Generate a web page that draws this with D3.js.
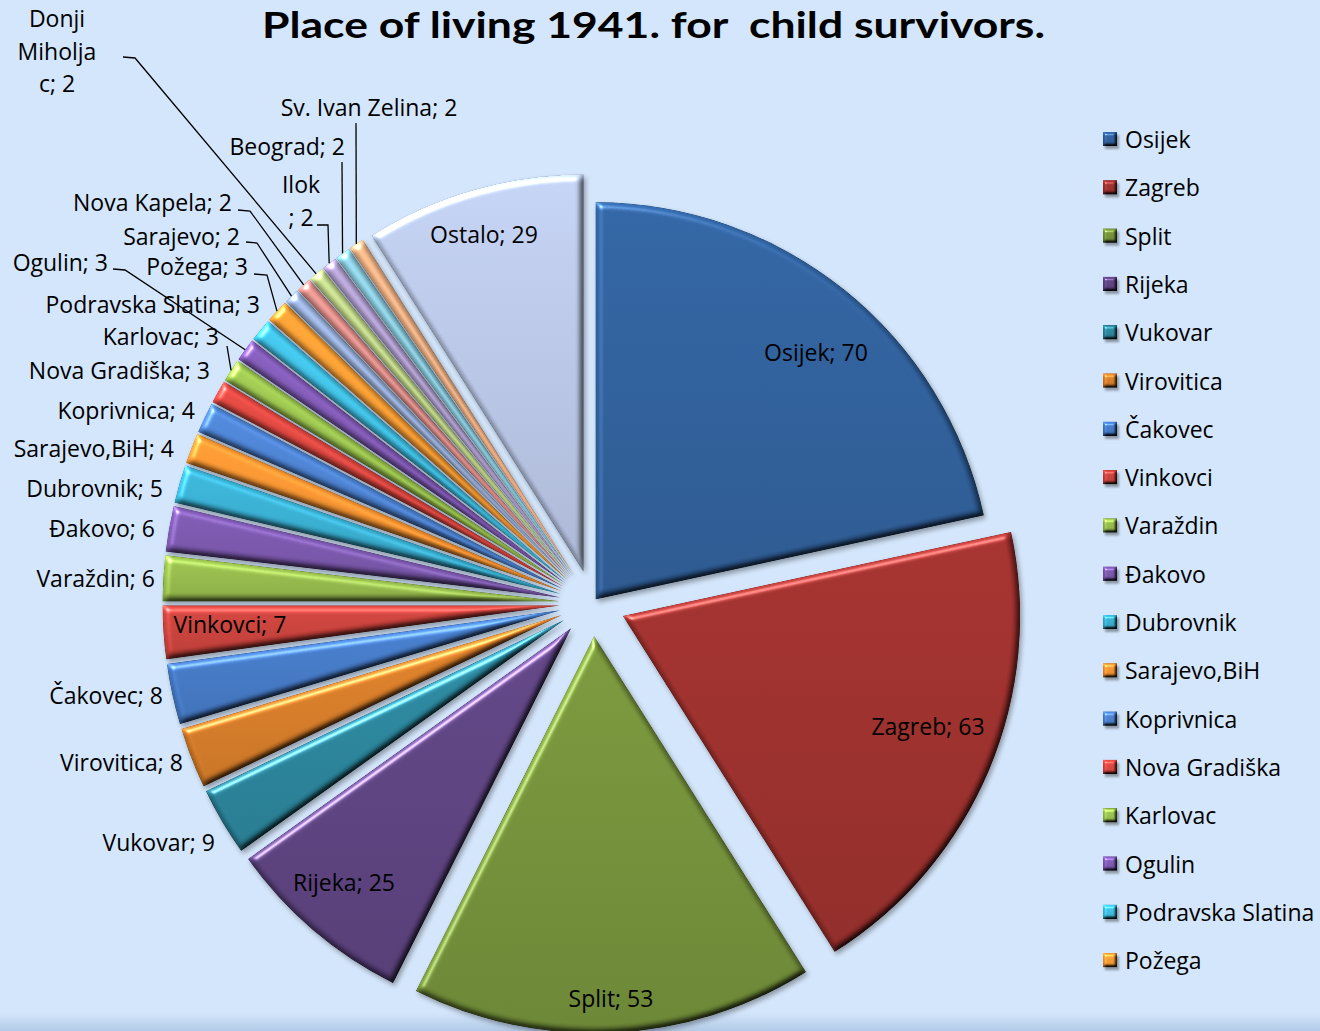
<!DOCTYPE html>
<html>
<head>
<meta charset="utf-8">
<script src="https://cdn.jsdelivr.net/npm/d3@7"></script>
<style>
  html, body { margin: 0; padding: 0; background: #d4e6fb; }
  svg { display: block; font-family: 'Open Sans', 'Noto Sans', sans-serif; }
</style>
</head>
<body>
<div class="viz"></div>
<script>
// places of living in 1941, in the order the slices are drawn (clockwise from 12 o'clock)
const categories = ['Osijek', 'Zagreb', 'Split', 'Rijeka', 'Vukovar', 'Virovitica', 'Čakovec', 'Vinkovci',
  'Varaždin', 'Đakovo', 'Dubrovnik', 'Sarajevo,BiH', 'Koprivnica', 'Nova Gradiška', 'Karlovac', 'Ogulin',
  'Podravska Slatina', 'Požega', 'Sarajevo', 'Nova Kapela', 'Donji Miholjac', 'Ilok', 'Beograd',
  'Sv. Ivan Zelina', 'Ostalo'];
const values = [70, 63, 53, 25, 9, 8, 8, 7, 6, 6, 5, 4, 4, 3, 3, 3, 3, 3, 2, 2, 2, 2, 2, 2, 29];
const colors = ['#2e5e99', '#9a2e2b', '#728f38', '#5b417e', '#29839a', '#d57b27',
  '#4378c4', '#c6403a', '#93b84a', '#7754a8', '#36abcc', '#f39130',
  '#4a7fcc', '#d8443e', '#97bf4c', '#7d57b0', '#3ebcdf', '#f79a32',
  '#9cb3de', '#e3928e', '#c2d88b', '#b3a1d2', '#8ecfe2', '#f8b487', '#b7c4e3'];
// the legend of the original is cut off after this many entries
const legendCount = 18;
const title = 'Place of living 1941. for  child survivors.';

// label placement, following the layout of the original chart
const labelLayout = {
  'Osijek': { x: 816, y: 352, anchor: 'middle' },
  'Zagreb': { x: 928, y: 726, anchor: 'middle' },
  'Split': { x: 611, y: 998, anchor: 'middle' },
  'Rijeka': { x: 344, y: 882, anchor: 'middle' },
  'Vukovar': { x: 215, y: 842, anchor: 'end' },
  'Virovitica': { x: 183, y: 762, anchor: 'end' },
  'Čakovec': { x: 163, y: 695, anchor: 'end' },
  'Vinkovci': { x: 230, y: 624, anchor: 'middle' },
  'Varaždin': { x: 155, y: 578, anchor: 'end' },
  'Đakovo': { x: 155, y: 528, anchor: 'end' },
  'Dubrovnik': { x: 163, y: 488, anchor: 'end' },
  'Sarajevo,BiH': { x: 174, y: 448, anchor: 'end' },
  'Koprivnica': { x: 195, y: 410, anchor: 'end' },
  'Nova Gradiška': { x: 210, y: 370, anchor: 'end' },
  'Karlovac': { x: 219, y: 336, anchor: 'end', leader: [[227, 346]] },
  'Ogulin': { x: 108, y: 262, anchor: 'end', leader: [[113, 269], [125, 270]] },
  'Podravska Slatina': { x: 260, y: 304, anchor: 'end' },
  'Požega': { x: 248, y: 266, anchor: 'end', leader: [[254, 274], [267, 275]] },
  'Sarajevo': { x: 240, y: 236, anchor: 'end', leader: [[246, 242], [257, 243]] },
  'Nova Kapela': { x: 232, y: 202, anchor: 'end', leader: [[238, 210], [250, 211]] },
  'Donji Miholjac': { x: 57, y: 18, anchor: 'middle', lines: ['Donji', 'Miholja', 'c; 2'], leader: [[123, 57], [135, 58]] },
  'Ilok': { x: 301, y: 184, anchor: 'middle', lines: ['Ilok', '; 2'], leader: [[317, 225], [328, 225]] },
  'Beograd': { x: 345, y: 146, anchor: 'end', leader: [[342, 162]] },
  'Sv. Ivan Zelina': { x: 369, y: 107, anchor: 'middle', leader: [[356, 123]] },
  'Ostalo': { x: 484, y: 234, anchor: 'middle' },
};

const width = 1320;
const height = 1031;
const center = { x: 592.6, y: 603.2 };
const radius = 397;
const lineHeight = 32.5;

const svg = d3.select('.viz')
  .append('svg')
  .attr('width', width)
  .attr('height', height);

const defs = svg.append('defs');

// bevel + soft shadow, roughly like the office "bevel" shape effect
function bevelFilter(id, blur, scale, region) {
  const f = defs.append('filter')
    .attr('id', id)
    .attr('filterUnits', 'userSpaceOnUse')
    .attr('x', region[0]).attr('y', region[1])
    .attr('width', region[2]).attr('height', region[3])
    .attr('color-interpolation-filters', 'sRGB');
  f.append('feGaussianBlur').attr('in', 'SourceAlpha').attr('stdDeviation', blur * 0.8).attr('result', 'sb');
  f.append('feOffset').attr('in', 'sb').attr('dx', 1.5).attr('dy', 2.5).attr('result', 'so');
  f.append('feComponentTransfer').attr('in', 'so').attr('result', 'shadow')
    .append('feFuncA').attr('type', 'linear').attr('slope', 0.35);
  f.append('feGaussianBlur').attr('in', 'SourceAlpha').attr('stdDeviation', blur).attr('result', 'hb');
  f.append('feDiffuseLighting').attr('in', 'hb').attr('surfaceScale', scale)
    .attr('diffuseConstant', 1).attr('lighting-color', '#ffffff').attr('result', 'diff')
    .append('feDistantLight').attr('azimuth', 235).attr('elevation', 55);
  f.append('feComposite').attr('in', 'SourceGraphic').attr('in2', 'diff')
    .attr('operator', 'arithmetic').attr('k1', 1.22).attr('k2', 0).attr('k3', 0).attr('k4', 0)
    .attr('result', 'lit');
  f.append('feSpecularLighting').attr('in', 'hb').attr('surfaceScale', scale)
    .attr('specularConstant', 0.55).attr('specularExponent', 35).attr('lighting-color', '#ffffff')
    .attr('result', 'spec')
    .append('feDistantLight').attr('azimuth', 235).attr('elevation', 40);
  f.append('feComposite').attr('in', 'spec').attr('in2', 'SourceAlpha').attr('operator', 'in').attr('result', 'specIn');
  f.append('feComposite').attr('in', 'lit').attr('in2', 'specIn')
    .attr('operator', 'arithmetic').attr('k1', 0).attr('k2', 1).attr('k3', 1).attr('k4', 0)
    .attr('result', 'shaded');
  const merge = f.append('feMerge');
  merge.append('feMergeNode').attr('in', 'shadow');
  merge.append('feMergeNode').attr('in', 'shaded');
}
bevelFilter('bevel', 3, 4, [-650, -650, 1300, 1300]);
bevelFilter('bevel-small', 1.6, 3, [-10, -10, 40, 40]);

// vertical gradient for every colour, lighter at the top
colors.forEach((c, i) => {
  const g = defs.append('linearGradient')
    .attr('id', `grad-${i}`)
    .attr('x1', 0).attr('y1', 0).attr('x2', 0).attr('y2', 1);
  g.append('stop').attr('offset', 0).attr('stop-color', d3.rgb(c).brighter(0.18));
  g.append('stop').attr('offset', 1).attr('stop-color', d3.rgb(c).darker(0.22));
});

const bottomGrad = defs.append('linearGradient')
  .attr('id', 'bottom-band')
  .attr('x1', 0).attr('y1', 0).attr('x2', 0).attr('y2', 1);
bottomGrad.append('stop').attr('offset', 0).attr('stop-color', '#d4e6fb');
bottomGrad.append('stop').attr('offset', 1).attr('stop-color', '#b3cbe8');

// background
svg.append('rect')
  .attr('width', width)
  .attr('height', height)
  .attr('fill', '#d4e6fb');
svg.append('rect')
  .attr('y', 1012)
  .attr('width', width)
  .attr('height', height - 1012)
  .attr('fill', 'url(#bottom-band)');

// title
svg.append('text')
  .attr('x', 653.5)
  .attr('y', 37.5)
  .attr('text-anchor', 'middle')
  .attr('font-family', 'Lato, sans-serif')
  .attr('font-size', 37)
  .attr('font-weight', 'bold')
  .attr('fill', '#000')
  .attr('textLength', 783)
  .attr('lengthAdjust', 'spacingAndGlyphs')
  .style('white-space', 'pre')
  .text(title);

// PIE
const data = categories.map((name, i) => ({ name, value: values[i], index: i }));
const pie = d3.pie().sort(null).value(d => d.value);
const arcs = pie(data);

const arc = d3.arc().innerRadius(0).outerRadius(radius);
const rimArc = d3.arc().innerRadius(radius).outerRadius(radius);

// every slice is pulled out from the centre; the first one only slightly
const explodeOffset = (d) => {
  const a = (d.startAngle + d.endAngle) / 2;
  const e = d.index === 0 ? 5 : 33;
  return [Math.sin(a) * e, -Math.cos(a) * e];
};

const groupPie = svg.append('g')
  .attr('transform', `translate(${center.x} ${center.y})`);

groupPie.selectAll('path.slice')
  .data(arcs)
  .join('path')
  .attr('class', 'slice')
  .attr('transform', d => `translate(${explodeOffset(d)})`)
  .attr('d', arc)
  .attr('fill', d => `url(#grad-${d.index})`)
  .attr('filter', 'url(#bevel)');

// LABELS
const labels = svg.append('g')
  .attr('class', 'labels')
  .attr('font-size', 23)
  .attr('fill', '#000');

const line = d3.line();

arcs.forEach(d => {
  const layout = labelLayout[d.data.name];
  if (!layout) return;

  if (layout.leader) {
    const off = explodeOffset(d);
    const rim = rimArc.centroid(d);
    const points = layout.leader.concat([[center.x + off[0] + rim[0], center.y + off[1] + rim[1]]]);
    labels.append('path')
      .attr('d', line(points))
      .attr('fill', 'none')
      .attr('stroke', '#000')
      .attr('stroke-width', 1.3);
  }

  const lines = layout.lines || [`${d.data.name}; ${d.data.value}`];
  const text = labels.append('text')
    .attr('text-anchor', layout.anchor)
    .attr('dominant-baseline', 'central');
  lines.forEach((l, i) => {
    text.append('tspan')
      .attr('x', layout.x)
      .attr('y', layout.y + i * lineHeight)
      .text(l);
  });
});

// LEGEND (truncated like the original)
const legend = svg.append('g')
  .attr('class', 'legend')
  .attr('font-size', 23);

const legendItems = legend.selectAll('g.item')
  .data(data.slice(0, legendCount))
  .join('g')
  .attr('class', 'item')
  .attr('transform', (d, i) => `translate(1103 ${139 + i * 48.3})`);

legendItems.append('rect')
  .attr('x', 0)
  .attr('y', -7)
  .attr('width', 14)
  .attr('height', 14)
  .attr('fill', d => `url(#grad-${d.index})`)
  .attr('filter', 'url(#bevel-small)');

legendItems.append('text')
  .attr('x', 22)
  .attr('y', 0)
  .attr('dominant-baseline', 'central')
  .attr('fill', '#000')
  .text(d => d.name);
</script>
</body>
</html>
